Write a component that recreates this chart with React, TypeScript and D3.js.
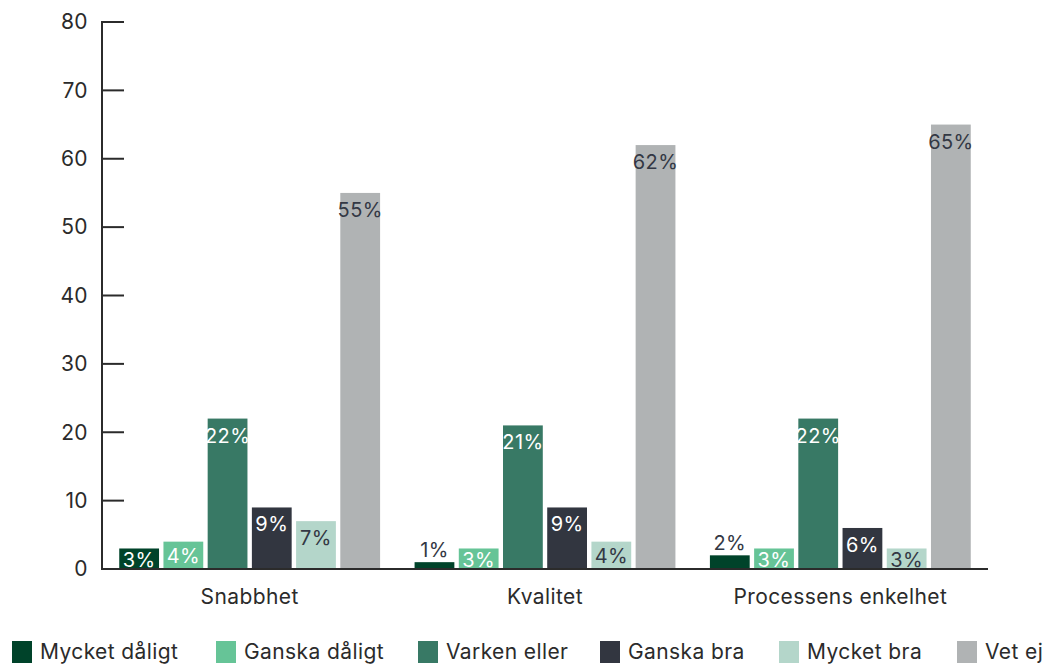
import React from "react";
import * as d3 from "d3";

const categories = ["Snabbhet", "Kvalitet", "Processens enkelhet"];
const seriesNames = ["Mycket dåligt", "Ganska dåligt", "Varken eller", "Ganska bra", "Mycket bra", "Vet ej"];
const seriesColors = ["#00432a", "#66c497", "#387965", "#323640", "#b4d6ca", "#b0b3b4"];
const labelColors = ["#ffffff", "#ffffff", "#ffffff", "#ffffff", "#333844", "#333844"];
const mycketDaligt = [3, 1, 2];
const ganskaDaligt = [4, 3, 3];
const varkenEller = [22, 21, 22];
const ganskaBra = [9, 9, 6];
const mycketBra = [7, 4, 3];
const vetEj = [55, 62, 65];
const seriesValues = [mycketDaligt, ganskaDaligt, varkenEller, ganskaBra, mycketBra, vetEj];
const yTicks = [0, 10, 20, 30, 40, 50, 60, 70, 80];
const legendX = [12, 216, 418, 600, 779, 957];

const W = 1051;
const H = 666;
const left = 102;
const right = 988;
const top = 22;
const bottom = 569;
const font = "Inter, 'DejaVu Sans', sans-serif";
const ls = 0.4;

export default function App() {
  const y = d3.scaleLinear().domain([0, 80]).range([bottom, top]);
  const x0 = d3.scaleBand<string>().domain(categories).range([left, right]).paddingInner(0).paddingOuter(0);
  const inner = d3
    .scaleBand<string>()
    .domain(seriesNames)
    .range([0, x0.bandwidth()])
    .paddingInner(0.1)
    .paddingOuter(0.39);

  return (
    <svg width={W} height={H} style={{ position: "absolute", left: 0, top: 0, background: "#fff" }}>
      {categories.map((c, ci) => (
        <g key={c}>
          {seriesNames.map((s, si) => {
            const v = seriesValues[si][ci];
            const bx = (x0(c) as number) + (inner(s) as number);
            const bw = inner.bandwidth();
            const by = y(v);
            const h = bottom - by;
            let ly: number;
            let fill: string;
            if (h >= 16) {
              ly = Math.min(by + 17, by + h / 2 + 1);
              fill = labelColors[si];
            } else {
              ly = by - 12;
              fill = "#333844";
            }
            return (
              <g key={s}>
                <rect x={bx} y={by} width={bw} height={h} fill={seriesColors[si]} />
                <text
                  x={bx + bw / 2}
                  y={ly}
                  dy="0.35em"
                  textAnchor="middle"
                  fontFamily={font}
                  fontSize={20}
                  letterSpacing={ls}
                  fill={fill}
                >
                  {v + "%"}
                </text>
              </g>
            );
          })}
          <text
            x={(x0(c) as number) + x0.bandwidth() / 2}
            y={597}
            dy="0.35em"
            textAnchor="middle"
            fontFamily={font}
            fontSize={21}
            letterSpacing={ls}
            fill="#2b2b2b"
          >
            {c}
          </text>
        </g>
      ))}
      {yTicks.map((t) => (
        <g key={t}>
          <line x1={left} x2={left + 22} y1={y(t)} y2={y(t)} stroke="#2b2b2b" strokeWidth={2} />
          <text x={88} y={y(t)} dy="0.35em" textAnchor="end" fontFamily={font} fontSize={21} letterSpacing={ls} fill="#2b2b2b">
            {t}
          </text>
        </g>
      ))}
      <line x1={left} x2={left} y1={top - 1} y2={bottom + 1} stroke="#2b2b2b" strokeWidth={2} />
      <line x1={left} x2={right} y1={bottom} y2={bottom} stroke="#2b2b2b" strokeWidth={2} />
      {seriesNames.map((s, si) => (
        <g key={s}>
          <rect x={legendX[si]} y={641} width={20} height={22} fill={seriesColors[si]} />
          <text x={legendX[si] + 28} y={652} dy="0.35em" fontFamily={font} fontSize={21} letterSpacing={ls} fill="#2b2b2b">
            {s}
          </text>
        </g>
      ))}
    </svg>
  );
}
